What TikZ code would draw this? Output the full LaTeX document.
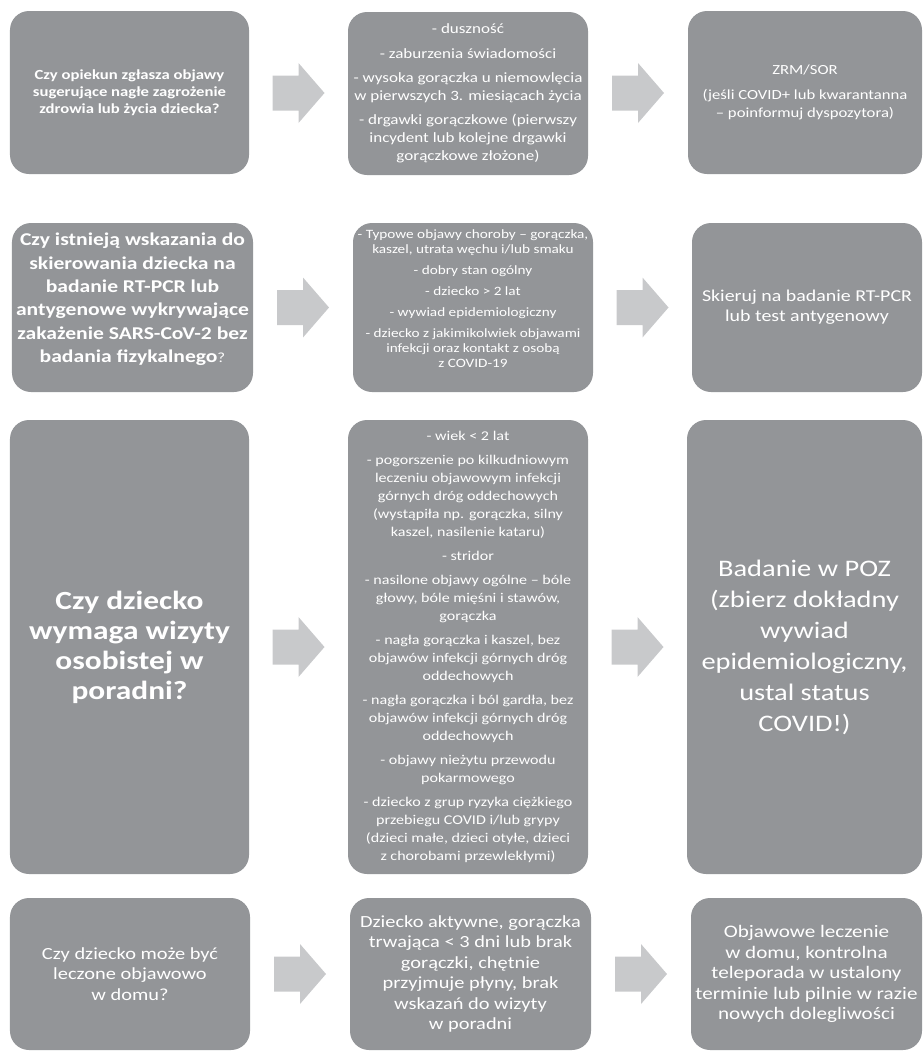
\documentclass[tikz,border=0pt]{standalone}
\usepackage{fontspec}
\setmainfont{Carlito}[FakeStretch=1.2]
\usetikzlibrary{calc}
\definecolor{boxgray}{HTML}{939598}
\definecolor{arrgray}{HTML}{C8C9CB}
\begin{document}
\begin{tikzpicture}[x=1bp,y=-1bp,
  box/.style={fill=boxgray, rounded corners=19bp, text=white, align=center, inner sep=0pt, draw=none},
  qbig/.style={font=\bfseries\fontsize{13.9bp}{17bp}\selectfont},
  listtext/.style={font=\fontsize{14.2bp}{18bp}\selectfont},
  smalllist/.style={font=\fontsize{12.7bp}{15bp}\selectfont},
  midtext/.style={font=\fontsize{17bp}{20.5bp}\selectfont},
  blockarrow/.pic={\fill[arrgray] (-26,-17.5) -- (0,-17.5) -- (0,-30) -- (26,0) -- (0,30) -- (0,17.5) -- (-26,17.5) -- cycle;}
]
\useasboundingbox (0,0) rectangle (923,1051);

% Row 1
\node[box, qbig, minimum width=239bp, minimum height=163bp] (q1) at (129.5,92.5)
  {Czy opiekun zgłasza objawy\\sugerujące nagłe zagrożenie\\zdrowia lub życia dziecka?};
\node[box, listtext, minimum width=240bp, minimum height=163bp] (s1) at (468,93.5)
  {- duszność\\[6.3bp]- zaburzenia świadomości\\[6.3bp]- wysoka gorączka u niemowlęcia\\w pierwszych 3. miesiącach życia\\[6.3bp]- drgawki gorączkowe (pierwszy\\incydent lub kolejne drgawki\\gorączkowe złożone)};
\node[box, font=\fontsize{13.9bp}{18bp}\selectfont, minimum width=234bp, minimum height=163bp] (r1) at (805,92.5)
  {ZRM/SOR\\[6.5bp](jeśli COVID+ lub kwarantanna\\– poinformuj dyspozytora)};

% Row 2
\node[box, font=\bfseries\fontsize{18bp}{23.3bp}\selectfont, minimum width=241bp, minimum height=169bp] (q2) at (132.5,307.5)
  {Czy istnieją wskazania do\\skierowania dziecka na\\badanie RT-PCR lub\\antygenowe wykrywające\\zakażenie SARS-CoV-2 bez\\badania fizykalnego{\mdseries\fontsize{14bp}{17bp}\selectfont ?}\\[-4bp]};
\node[box, smalllist, minimum width=240bp, minimum height=169bp] (s2) at (473,307.5)
  {- Typowe objawy choroby – gorączka,\\kaszel, utrata węchu i/lub smaku\\[6bp]- dobry stan ogólny\\[6bp]- dziecko > 2 lat\\[6bp]- wywiad epidemiologiczny\\[6bp]- dziecko z jakimikolwiek objawami\\infekcji oraz kontakt z osobą\\z COVID-19\\[2bp]};
\node[box, font=\fontsize{16.6bp}{20bp}\selectfont, minimum width=230bp, minimum height=169bp] (r2) at (807,307.5)
  {Skieruj na badanie RT-PCR\\lub test antygenowy};

% Row 3
\node[box, font=\bfseries\fontsize{26.2bp}{30bp}\selectfont, minimum width=239bp, minimum height=454bp] (q3) at (129.5,647)
  {Czy dziecko\\wymaga wizyty\\osobistej w\\poradni?};
\node[box, font=\fontsize{13.4bp}{18bp}\selectfont, minimum width=240bp, minimum height=454bp] (s3) at (468,647)
  {- wiek < 2 lat\\[6bp]- pogorszenie po kilkudniowym\\leczeniu objawowym infekcji\\górnych dróg oddechowych\\(wystąpiła np. gorączka, silny\\kaszel, nasilenie kataru)\\[6bp]- stridor\\[6bp]- nasilone objawy ogólne – bóle\\głowy, bóle mięśni i stawów,\\gorączka\\[6bp]- nagła gorączka i kaszel, bez\\objawów infekcji górnych dróg\\oddechowych\\[6bp]- nagła gorączka i ból gardła, bez\\objawów infekcji górnych dróg\\oddechowych\\[6bp]- objawy nieżytu przewodu\\pokarmowego\\[6bp]- dziecko z grup ryzyka ciężkiego\\przebiegu COVID i/lub grypy\\(dzieci małe, dzieci otyłe, dzieci\\z chorobami przewlekłymi)};
\node[box, font=\fontsize{23.7bp}{31bp}\selectfont, minimum width=235bp, minimum height=454bp] (r3) at (804.5,647)
  {Badanie w POZ\\(zbierz dokładny\\wywiad\\epidemiologiczny,\\ustal status\\COVID!)};

% Row 4
\node[box, midtext, minimum width=240bp, minimum height=152bp] (q4) at (130,974)
  {Czy dziecko może być\\leczone objawowo\\w domu?};
\node[box, midtext, minimum width=241bp, minimum height=152bp] (s4) at (470.5,974)
  {Dziecko aktywne, gorączka\\trwająca < 3 dni lub brak\\gorączki, chętnie\\przyjmuje płyny, brak\\wskazań do wizyty\\w poradni};
\node[box, font=\fontsize{17.6bp}{20.5bp}\selectfont, minimum width=231bp, minimum height=152bp] (r4) at (806.5,974)
  {Objawowe leczenie\\w domu, kontrolna\\teleporada w ustalony\\terminie lub pilnie w razie\\nowych dolegliwości};

% Block arrows
\coordinate (a1l) at ($(q1.east)!0.5!(s1.west)$);
\coordinate (a1r) at ($(s1.east)!0.5!(r1.west)$);
\coordinate (a2l) at ($(q2.east)!0.5!(s2.west)$);
\coordinate (a2r) at ($(s2.east)!0.5!(r2.west)$);
\coordinate (a3l) at ($(q3.east)!0.5!(s3.west)$);
\coordinate (a3r) at ($(s3.east)!0.5!(r3.west)$);
\coordinate (a4l) at ($(q4.east)!0.5!(s4.west)$);
\coordinate (a4r) at ($(s4.east)!0.5!(r4.west)$);
\foreach \c in {a1l,a1r,a2l,a2r,a3l,a3r,a4l,a4r} { \pic at (\c) {blockarrow}; }
\end{tikzpicture}
\end{document}
